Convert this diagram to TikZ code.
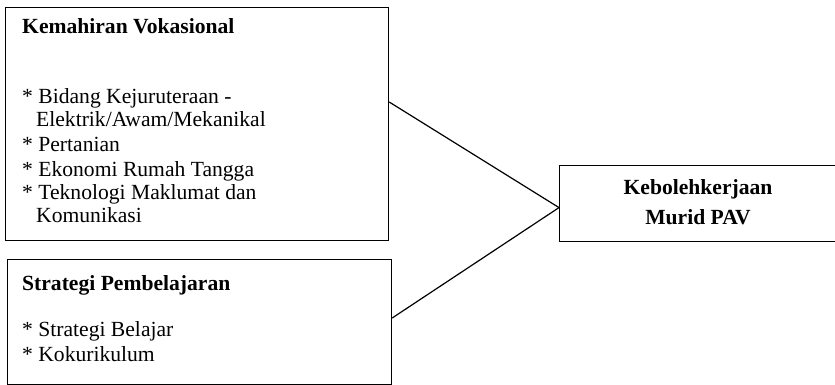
\documentclass[tikz,border=0pt]{standalone}
\usepackage{fontspec}
\setmainfont{Liberation Serif}
\usetikzlibrary{calc}
\tikzset{
  boxnode/.style={draw, line width=1.2pt, inner sep=0pt, anchor=north west},
  txt/.style={inner sep=0pt, anchor=base west, font=\fontsize{21.6}{24}\selectfont},
  btxt/.style={inner sep=0pt, anchor=base west, font=\fontsize{21.6}{24}\selectfont\bfseries},
  ctxt/.style={inner sep=0pt, anchor=base, font=\fontsize{21.6}{24}\selectfont\bfseries},
  conn/.style={line width=1.2pt}
}
\begin{document}
\begin{tikzpicture}[x=1pt,y=-1pt]
\useasboundingbox (0,0) rectangle (835,385);
\node[boxnode, minimum width=383pt, minimum height=233pt] (b1) at (5,7) {};
\node[boxnode, minimum width=384pt, minimum height=125pt] (b2) at (7,259) {};
\node[boxnode, minimum width=280pt, minimum height=76pt] (b3) at (559,165) {};
% box 1 text
\node[btxt] (t1) at (22,34) {Kemahiran Vokasional};
\node[txt] (t2) at (22,104) {* Bidang Kejuruteraan -};
\node[txt] (t3) at (36,127) {Elektrik/Awam/Mekanikal};
\node[txt] (t4) at (22,151) {* Pertanian};
\node[txt] (t5) at (22,176) {* Ekonomi Rumah Tangga};
\node[txt] (t6) at (22,199) {* Teknologi Maklumat dan};
\node[txt] (t7) at (36,222) {Komunikasi};
% box 2 text
\node[btxt] (s1) at (22,290) {Strategi Pembelajaran};
\node[txt] (s2) at (22,336) {* Strategi Belajar};
\node[txt] (s3) at (22,361) {* Kokurikulum};
% box 3 text
\node[ctxt] (k1) at (698,194) {Kebolehkerjaan};
\node[ctxt] (k2) at (698,224) {Murid PAV};
% connectors
\coordinate (m) at ($(b3.west)+(0,4)$);
\coordinate (p1) at ($(b1.north east)+(0,95)$);
\coordinate (p2) at ($(b2.north east)+(0,59)$);
\draw[conn] (p1) -- (m);
\draw[conn] (p2) -- (m);
\end{tikzpicture}
\end{document}
